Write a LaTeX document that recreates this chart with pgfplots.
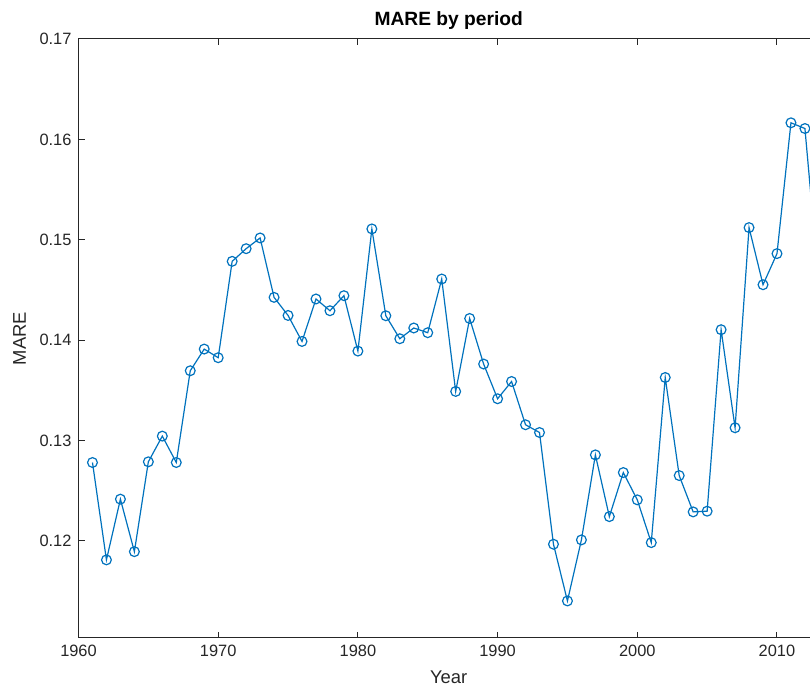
\documentclass[border=0pt]{standalone}
\usepackage{pgfplots}
\pgfplotsset{compat=1.18}
\usepackage{fontspec}
\setmainfont{Liberation Sans}
\definecolor{mblue}{RGB}{0,114,189}
\definecolor{axgray}{RGB}{38,38,38}
\begin{document}
\begin{tikzpicture}
\begin{axis}[
  scale only axis, width=370.2pt, height=299.5pt,
  xmin=1960, xmax=2013, ymin=0.11033, ymax=0.17,
  xtick={1960,1970,1980,1990,2000,2010},
  ytick={0.12,0.13,0.14,0.15,0.16,0.17},
  tick align=inside, major tick length=3.2pt,
  axis line style={axgray, line width=0.5pt},
  every tick/.style={axgray, line width=0.5pt},
  /pgf/number format/assume math mode=true,
  xticklabel style={/pgf/number format/set thousands separator={}, font=\fontsize{8.2}{9}\selectfont, text=axgray},
  yticklabel style={/pgf/number format/fixed, /pgf/number format/precision=2, /pgf/number format/fixed zerofill, font=\fontsize{8.2}{9}\selectfont, text=axgray},
  scaled y ticks=false,
  title={MARE by period},
  title style={font=\bfseries\fontsize{9.6}{11}\selectfont, yshift=-5pt},
  xlabel={Year}, ylabel={MARE},
  label style={font=\fontsize{9.2}{10}\selectfont, text=axgray},
  clip=true,
]
\addplot[mblue, line width=0.6pt, mark=o, mark size=2.45pt, mark options={line width=0.6pt}] coordinates {
(1961,0.12781) (1962,0.11811) (1963,0.12416) (1964,0.11893) (1965,0.12788)
(1966,0.13044) (1967,0.12781) (1968,0.13695) (1969,0.13911) (1970,0.13825)
(1971,0.14785) (1972,0.14911) (1973,0.15018) (1974,0.14426) (1975,0.14246)
(1976,0.13987) (1977,0.14410) (1978,0.14293) (1979,0.14443) (1980,0.13891)
(1981,0.15108) (1982,0.14243) (1983,0.14014) (1984,0.14121) (1985,0.14074)
(1986,0.14609) (1987,0.13489) (1988,0.14216) (1989,0.13762) (1990,0.13416)
(1991,0.13588) (1992,0.13157) (1993,0.13080) (1994,0.11967) (1995,0.11402)
(1996,0.12010) (1997,0.12857) (1998,0.12242) (1999,0.12681) (2000,0.12409)
(2001,0.11983) (2002,0.13628) (2003,0.12651) (2004,0.12289) (2005,0.12296)
(2006,0.14104) (2007,0.13127) (2008,0.15121) (2009,0.14552) (2010,0.14862)
(2011,0.16165) (2012,0.16108) (2013,0.14550)
};
\end{axis}
\pgfresetboundingbox
\path[use as bounding box] ([xshift=-39.25pt,yshift=-27pt]current axis.south west) rectangle ([xshift=365.75pt,yshift=19.5pt]current axis.north west);
\end{tikzpicture}
\end{document}
